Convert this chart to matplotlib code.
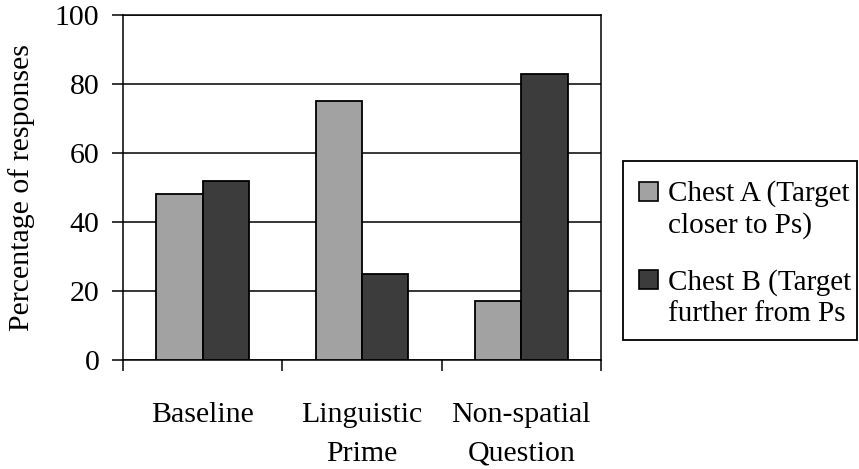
import numpy as np
import matplotlib
matplotlib.use("Agg")
import matplotlib.pyplot as plt
from matplotlib.patches import Rectangle
from matplotlib.legend_handler import HandlerPatch

plt.rcParams['font.family'] = ['Liberation Serif', 'DejaVu Serif']

categories = ['Baseline', 'Linguistic\nPrime', 'Non-spatial\nQuestion']
chest_a = [48, 75, 17]
chest_b = [52, 25, 83]
series_labels = ['Chest A (Target\ncloser to Ps)', 'Chest B (Target\nfurther from Ps']
yticks = [0, 20, 40, 60, 80, 100]


class FirstLineSquare(HandlerPatch):
    # square key next to the first line of a two-line label
    def create_artists(self, legend, orig_handle, xdescent, ydescent,
                       width, height, fontsize, trans):
        side = 0.65 * fontsize
        lift = 0.6 * fontsize
        face = orig_handle.patches[0].get_facecolor()
        p = Rectangle((-xdescent - 0.1 * fontsize, -ydescent + lift), side, side,
                      facecolor=face, edgecolor='black', linewidth=1.2,
                      transform=trans)
        return [p]


fig = plt.figure(figsize=(8.59, 4.69), dpi=100)
ax = fig.add_axes([123 / 859, 1 - 360 / 469, (601 - 123) / 859, (360 - 15) / 469])

x = np.arange(len(categories))
w = 0.29
bars_a = ax.bar(x - w / 2, chest_a, w, color='#a2a2a2', edgecolor='black', linewidth=1.3,
                label=series_labels[0], zorder=3)
bars_b = ax.bar(x + w / 2, chest_b, w, color='#3c3c3c', edgecolor='black', linewidth=1.3,
                label=series_labels[1], zorder=3)

ax.set_xlim(-0.5, len(categories) - 0.5)
ax.set_ylim(0, 100)
ax.set_yticks(yticks)
ax.yaxis.grid(True, color='black', linewidth=1.1, zorder=1)
ax.set_axisbelow(True)

# category labels centred on groups, tick marks on the group boundaries
ax.set_xticks(x)
ax.set_xticklabels(categories, fontsize=21.5, linespacing=1.65)
ax.set_xticks(np.arange(-0.5, len(categories), 1.0), minor=True)
ax.tick_params(axis='x', which='major', length=0, pad=30)
ax.tick_params(axis='x', which='minor', length=8, width=1.1, direction='out')

ax.tick_params(axis='y', labelsize=21.5, length=8, width=1.1, direction='out', pad=9)
ax.set_ylabel('Percentage of responses', fontsize=21.5, labelpad=14)

for s in ax.spines.values():
    s.set_linewidth(1.1)
    s.set_color('black')

# legend box, the labels are laid out inside it
fig.patches.append(Rectangle((623 / 859, 1 - 340 / 469), (857 - 623) / 859, (340 - 161) / 469,
                             transform=fig.transFigure, fill=False,
                             edgecolor='black', linewidth=1.3))
leg = fig.legend(handles=[bars_a, bars_b], labels=series_labels,
                 loc='upper left', bbox_to_anchor=(623 / 859, 1 - 161 / 469),
                 fontsize=21, frameon=False, handlelength=0.65, handleheight=0.6,
                 handletextpad=0.25, labelspacing=1.03, borderpad=0.64,
                 borderaxespad=0,
                 handler_map={type(bars_a): FirstLineSquare()})
for t in leg.get_texts():
    t.set_linespacing(1.25)

fig.savefig('out.png', dpi=100)
